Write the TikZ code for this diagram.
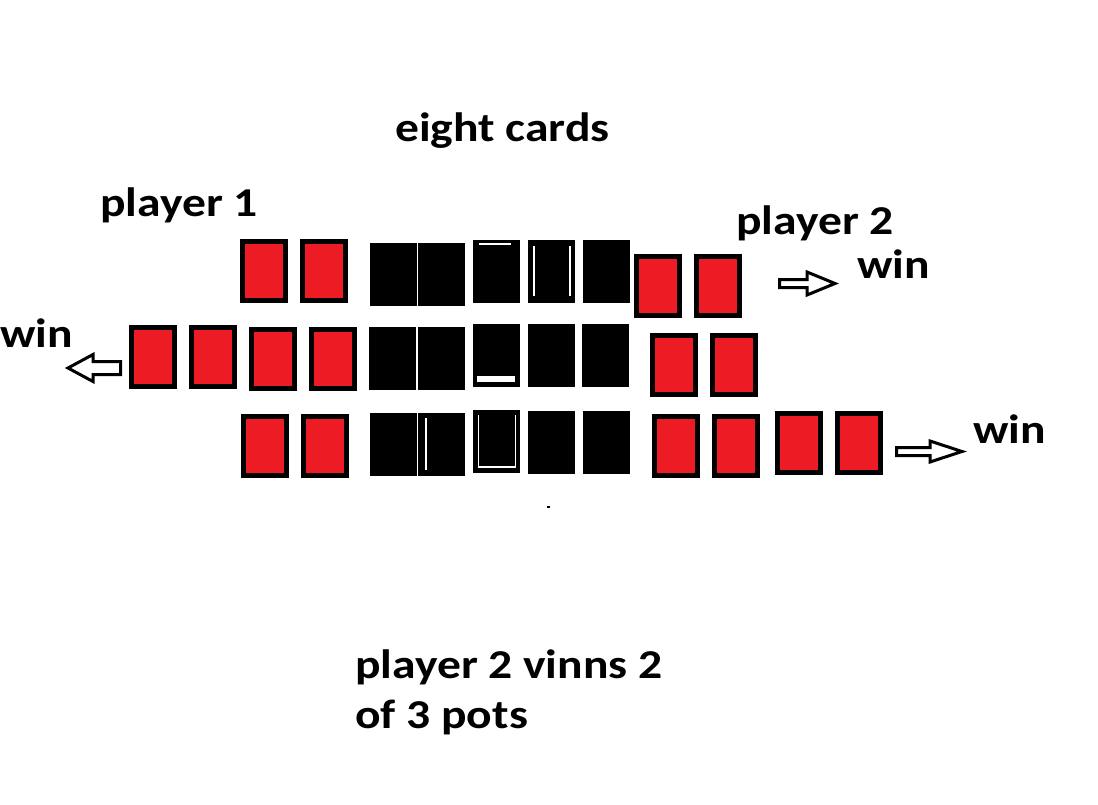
\documentclass[tikz,border=0pt]{standalone}
\usepackage{fontspec}
\setmainfont{Carlito}[FakeStretch=1.16]
\usetikzlibrary{positioning}
\definecolor{cardred}{HTML}{ED1C24}
\tikzset{
redcard/.style={draw=black,fill=cardred,line width=5pt,minimum width=43pt,minimum height=59pt,inner sep=0pt},
blackcard/.style={draw=white,fill=black,line width=0.8pt,minimum width=48pt,minimum height=64pt,inner sep=0pt},
txt/.style={font=\fontsize{41}{50}\selectfont\bfseries,inner sep=0pt,anchor=base west},
blockarr/.style={draw=black,fill=white,line width=3pt,line join=miter},
pip/.style={draw=white,line width=1.5pt}
}

\begin{document}
\begin{tikzpicture}[x=1pt,y=-1pt]
\useasboundingbox (0,0) rectangle (1098,805);
% texts
\node[txt] (title) at (395,142) {eight cards};
\node[txt] (pl1) at (100,217) {player 1};
\node[txt] (pl2) at (736,235) {player 2};
\node[txt,anchor=north west,align=left] (result) at (355,650) {player 2 vinns 2\\of 3 pots};
% first pot
\node[redcard] (p1a) at (264,271) {};
\node[redcard,right=12pt of p1a] (p1b) {};
\node[blackcard] (c1a) at (393,274) {};
\node[blackcard,right=0pt of c1a] (c1b) {};
\node[blackcard,right=6pt of c1b,yshift=3pt] (c1c) {};
\node[blackcard,right=6pt of c1c] (c1d) {};
\node[blackcard,right=6pt of c1d] (c1e) {};
\node[redcard] (p2a) at (658,286) {};
\node[redcard,right=12pt of p2a] (p2b) {};
\draw[pip] ([shift={(-18,-27)}]c1c.center) -- ([shift={(14,-27)}]c1c.center);
\draw[pip] ([shift={(-17.5,-25)}]c1d.center) -- ([shift={(-17.5,25)}]c1d.center);
\draw[pip] ([shift={(18.5,-25)}]c1d.center) -- ([shift={(18.5,25)}]c1d.center);
% second pot
\node[redcard] (l2a) at (153,357) {};
\node[redcard,right=12pt of l2a] (l2b) {};
\node[redcard] (l2c) at (272.5,359) {};
\node[redcard,right=12pt of l2c] (l2d) {};
\node[blackcard] (c2a) at (392.5,358) {};
\node[blackcard,right=0pt of c2a] (c2b) {};
\node[blackcard,right=6pt of c2b,yshift=3pt] (c2c) {};
\node[blackcard,right=6pt of c2c] (c2d) {};
\node[blackcard,right=6pt of c2d] (c2e) {};
\node[redcard] (r2a) at (674,365) {};
\node[redcard,right=12pt of r2a] (r2b) {};
\fill[white] ([shift={(-19,21)}]c2c.center) rectangle ([shift={(19,27)}]c2c.center);
% third pot
\node[redcard] (l3a) at (265,446) {};
\node[redcard,right=12pt of l3a] (l3b) {};
\node[blackcard] (c3a) at (393,444) {};
\node[blackcard,right=0pt of c3a] (c3b) {};
\node[blackcard,right=6pt of c3b,yshift=3pt] (c3c) {};
\node[blackcard,right=6pt of c3c,yshift=-1pt] (c3d) {};
\node[blackcard,right=6pt of c3d] (c3e) {};
\node[redcard] (r3a) at (675.5,446) {};
\node[redcard,right=12pt of r3a] (r3b) {};
\node[redcard] (r3c) at (799,443) {};
\node[redcard,right=12pt of r3c] (r3d) {};
\draw[pip] ([shift={(-16,-26)}]c3b.center) -- ([shift={(-16,26)}]c3b.center);
\draw[pip] ([shift={(-18,-26)}]c3c.center) -- ([shift={(-18,26)}]c3c.center) -- ([shift={(19,26)}]c3c.center) -- ([shift={(19,-26)}]c3c.center);
% winners
\node[txt] (win1) at (857,278) {win};
\node[txt] (win2) at (0,347) {win};
\node[txt] (win3) at (973,443) {win};
\coordinate (a1) at (779.5,283.5);
\coordinate (a2) at (120.5,368);
\coordinate (a3) at (896.5,451.5);
\draw[blockarr] (a1) ++(0,-4) -- ++(27.5,0) -- ++(0,-7.5) -- ++(28,11.5) -- ++(-28,11.5) -- ++(0,-7.5) -- ++(-27.5,0) -- cycle;
\draw[blockarr] (a2) ++(0,-6.5) -- ++(-27.5,0) -- ++(0,-7) -- ++(-25,13.5) -- ++(25,13.5) -- ++(0,-7) -- ++(27.5,0) -- cycle;
\draw[blockarr] (a3) ++(0,-4) -- ++(33.5,0) -- ++(0,-6.5) -- ++(32,10.5) -- ++(-32,10.5) -- ++(0,-6.5) -- ++(-33.5,0) -- cycle;
\fill (546.5,505.5) rectangle ++(3,2.5);
\end{tikzpicture}
\end{document}
